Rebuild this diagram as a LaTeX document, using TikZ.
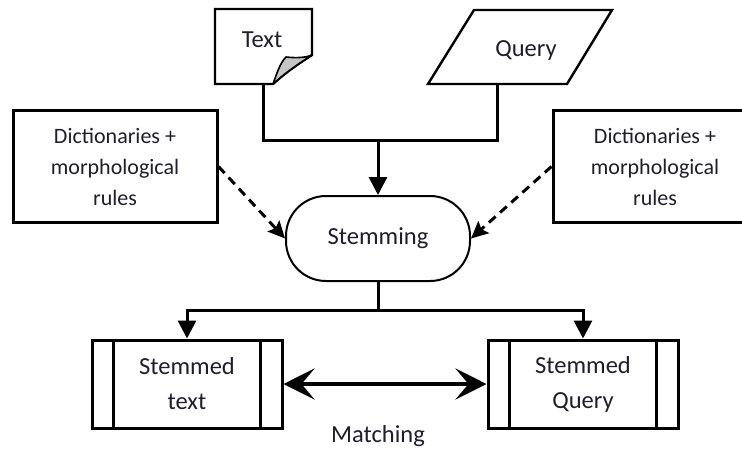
\documentclass[tikz,border=0pt]{standalone}
\usepackage{fontspec}
\setmainfont{Carlito}
\usetikzlibrary{arrows.meta}
\definecolor{txtc}{RGB}{30,30,45}
\begin{document}
\begin{tikzpicture}[x=1pt,y=-1pt,
  lbl/.style={font=\fontsize{24.5}{35}\selectfont, text=txtc, align=center, inner sep=0pt},
  dictbox/.style={draw, line width=3pt, minimum width=204pt, minimum height=112pt,
    font=\fontsize{22}{31}\selectfont, text=txtc, align=center},
  stembox/.style={draw, line width=3pt, minimum width=190pt, minimum height=88pt,
    font=\fontsize{24.5}{35}\selectfont, text=txtc, align=center},
  conn/.style={line width=3pt, line join=miter},
  downarrow/.style={conn, -{Triangle[width=18pt,length=18pt]}},
  dasharrow/.style={line width=3pt, dash pattern=on 9pt off 6pt, -{Stealth[width=16pt,length=17pt,inset=3pt]}},
  bigarrow/.style={line width=4.5pt, {Stealth[width=31pt,length=31pt,inset=13pt]}-{Stealth[width=31pt,length=31pt,inset=13pt]}}
]
\useasboundingbox[fill=white] (0,0) rectangle (742,448);

% Text document
\draw[line width=2.4pt, line join=miter] (215,9) -- (312,9) -- (312,55)
  .. controls (298,64) and (285,73) .. (273,84) -- (215,84) -- cycle;
\draw[fill=gray!45, line width=1.6pt, line join=round] (273,84)
  .. controls (277,73) and (280,63) .. (286,57)
  .. controls (295,58) and (305,58) .. (312,55)
  .. controls (298,64) and (285,73) .. (273,84) -- cycle;
\node[lbl] (txt) at (262,40) {Text};
\coordinate (tb) at (263.5,84);

% Query parallelogram
\draw[line width=2.4pt, line join=miter] (474,10) -- (612,10) -- (567,84) -- (428,84) -- cycle;
\node[lbl] (qry) at (526,51) {Query};
\coordinate (qb) at (497.5,84);

% Dictionaries
\node[dictbox] (dl) at (115,166.5) {Dictionaries +\\morphological\\rules};
\node[dictbox] (dr) at (655,166.5) {Dictionaries +\\morphological\\rules};

% Stemming
\node[draw, line width=2pt, rounded corners=40pt, minimum width=184pt, minimum height=85pt,
  font=\fontsize{24.5}{35}\selectfont, text=txtc] (st) at (378,238.5) {Stemming};

% Stemmed boxes
\node[stembox] (stt) at (187,384) {Stemmed\\text};
\node[stembox] (stq) at (583,384) {Stemmed\\Query};
\foreach \b in {stt,stq}{
  \draw[line width=3pt] ([xshift=23pt]\b.north west) -- ([xshift=23pt]\b.south west);
  \draw[line width=3pt] ([xshift=-23pt]\b.north east) -- ([xshift=-23pt]\b.south east);
}

% Connectors
\coordinate (j) at (378,140);
\draw[conn] (tb) |- (j) -| (qb);
\draw[downarrow] (j) -- (st.north);
\draw[dasharrow] (dl.east) -- (st.west);
\draw[dasharrow] (dr.west) -- (st.east);
\coordinate (k) at (378,310);
\draw[conn] (st.south) -- (k);
\draw[downarrow] (k) -| (stt.north);
\draw[downarrow] (k) -| (stq.north);
\draw[bigarrow] (stt.east) -- (stq.west);
\node[lbl] (match) at (378,436) {Matching};
\end{tikzpicture}
\end{document}
